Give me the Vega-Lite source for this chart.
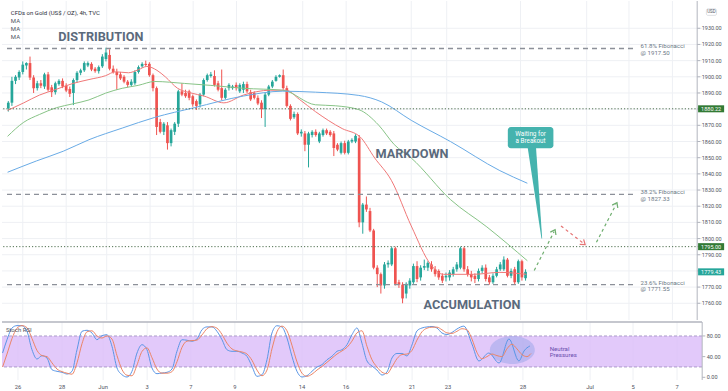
{
"$schema": "https://vega.github.io/schema/vega-lite/v6.json",
"padding": 0,
"spacing": 0,
"background": "white",
"config": {"view": {"stroke": null}, "font": "Roboto"},
"resolve": {"scale": {"color": "independent"}},
"datasets": {
"yt": [{"v":1760,"t":"1760.00"},{"v":1770,"t":"1770.00"},{"v":1780,"t":"1780.00"},{"v":1790,"t":"1790.00"},{"v":1800,"t":"1800.00"},{"v":1810,"t":"1810.00"},{"v":1820,"t":"1820.00"},{"v":1830,"t":"1830.00"},{"v":1840,"t":"1840.00"},{"v":1850,"t":"1850.00"},{"v":1860,"t":"1860.00"},{"v":1870,"t":"1870.00"},{"v":1880,"t":"1880.00"},{"v":1890,"t":"1890.00"},{"v":1900,"t":"1900.00"},{"v":1910,"t":"1910.00"},{"v":1920,"t":"1920.00"},{"v":1930,"t":"1930.00"}],
"rt": [{"v":0,"t":"0.00"},{"v":40,"t":"40.00"},{"v":80,"t":"80.00"}],
"xt": [{"k":0,"t":"26"},{"k":12,"t":"28"},{"k":23.2,"t":"Jun"},{"k":35.2,"t":"3"},{"k":47.1,"t":"7"},{"k":59.1,"t":"9"},{"k":77.4,"t":"14"},{"k":89.4,"t":"16"},{"k":107.4,"t":"21"},{"k":117.2,"t":"23"},{"k":137.6,"t":"28"},{"k":155.9,"t":"Jul"},{"k":167.6,"t":"5"},{"k":179.6,"t":"7"}],
"candles": [
{"k":-4,"o":1880.5,"h":1885,"l":1878.5,"c":1884},
{"k":-3,"o":1884,"h":1900,"l":1882,"c":1897.5},
{"k":-2,"o":1897.5,"h":1901,"l":1895.5,"c":1900},
{"k":-1,"o":1899.5,"h":1904,"l":1898,"c":1903},
{"k":0,"o":1903,"h":1909.5,"l":1901.5,"c":1907.5},
{"k":1,"o":1907,"h":1909,"l":1904.5,"c":1908.5},
{"k":2,"o":1908.5,"h":1912.5,"l":1898,"c":1899.5},
{"k":3,"o":1899.5,"h":1901,"l":1890,"c":1893},
{"k":4,"o":1893,"h":1897.5,"l":1891.5,"c":1896},
{"k":5,"o":1896,"h":1898,"l":1893,"c":1894.5},
{"k":6,"o":1894,"h":1902.5,"l":1892.5,"c":1901.5},
{"k":7,"o":1901.5,"h":1903,"l":1891,"c":1892},
{"k":8,"o":1893.5,"h":1895,"l":1887.5,"c":1890.5},
{"k":9,"o":1890.5,"h":1897,"l":1889,"c":1896},
{"k":10,"o":1895.5,"h":1898.5,"l":1894.5,"c":1897.5},
{"k":11,"o":1897.5,"h":1899,"l":1893,"c":1894},
{"k":12,"o":1894.5,"h":1896,"l":1890.5,"c":1891.5},
{"k":13,"o":1892.5,"h":1894,"l":1887.5,"c":1889.5},
{"k":14,"o":1890,"h":1899,"l":1882.5,"c":1898},
{"k":15,"o":1898,"h":1903.5,"l":1896.5,"c":1902.5},
{"k":16,"o":1902.5,"h":1905,"l":1901,"c":1904},
{"k":17,"o":1904,"h":1909.5,"l":1903,"c":1908.5},
{"k":18,"o":1907,"h":1909.5,"l":1906,"c":1908.5},
{"k":19,"o":1908,"h":1909,"l":1903.5,"c":1904.5},
{"k":20,"o":1905,"h":1906,"l":1902.5,"c":1903.5},
{"k":21,"o":1903.5,"h":1907,"l":1902,"c":1906},
{"k":22,"o":1906.5,"h":1914,"l":1905.5,"c":1912.5},
{"k":23,"o":1911,"h":1918,"l":1909.5,"c":1915},
{"k":24,"o":1913.5,"h":1917,"l":1904,"c":1905},
{"k":25,"o":1905,"h":1907,"l":1902,"c":1903},
{"k":26,"o":1903,"h":1905,"l":1892,"c":1901},
{"k":27,"o":1901.5,"h":1903,"l":1898,"c":1899},
{"k":28,"o":1900,"h":1901,"l":1896,"c":1897},
{"k":29,"o":1897,"h":1898,"l":1893.5,"c":1895},
{"k":30,"o":1895,"h":1898.5,"l":1894,"c":1897},
{"k":31,"o":1896,"h":1904,"l":1895,"c":1903},
{"k":32,"o":1903,"h":1907,"l":1902,"c":1906},
{"k":33,"o":1906.5,"h":1909,"l":1905.5,"c":1908},
{"k":34,"o":1908,"h":1910,"l":1906.5,"c":1907.3},
{"k":35,"o":1908,"h":1909,"l":1900,"c":1901},
{"k":36,"o":1901,"h":1902,"l":1891,"c":1893},
{"k":37,"o":1893,"h":1894,"l":1864,"c":1869},
{"k":38,"o":1872,"h":1874,"l":1865,"c":1866},
{"k":39,"o":1866,"h":1872,"l":1864,"c":1871},
{"k":40,"o":1870,"h":1872,"l":1855,"c":1859},
{"k":41,"o":1859,"h":1868,"l":1857,"c":1867},
{"k":42,"o":1866,"h":1872,"l":1864,"c":1871},
{"k":43,"o":1871,"h":1892,"l":1869,"c":1891},
{"k":44,"o":1891,"h":1896,"l":1888,"c":1889},
{"k":45,"o":1890,"h":1892,"l":1887,"c":1888},
{"k":46,"o":1891,"h":1892,"l":1885.5,"c":1887},
{"k":47,"o":1888,"h":1889,"l":1881.5,"c":1883},
{"k":48,"o":1885,"h":1886,"l":1879.5,"c":1882},
{"k":49,"o":1883,"h":1890,"l":1881,"c":1889},
{"k":50,"o":1889,"h":1899,"l":1888,"c":1898},
{"k":51,"o":1898,"h":1902,"l":1897,"c":1901},
{"k":52,"o":1900.5,"h":1903,"l":1899.5,"c":1901.5},
{"k":53,"o":1900.5,"h":1904,"l":1894,"c":1895},
{"k":54,"o":1896,"h":1897.5,"l":1891,"c":1892},
{"k":55,"o":1893,"h":1904.5,"l":1885.5,"c":1887},
{"k":56,"o":1887,"h":1893,"l":1886,"c":1892},
{"k":57,"o":1893,"h":1896,"l":1891.5,"c":1895},
{"k":58,"o":1893,"h":1895,"l":1892,"c":1894},
{"k":59,"o":1895,"h":1896.5,"l":1891.5,"c":1893},
{"k":60,"o":1891,"h":1896,"l":1890,"c":1895},
{"k":61,"o":1892,"h":1897,"l":1890,"c":1895.5},
{"k":62,"o":1895.5,"h":1897,"l":1890,"c":1891},
{"k":63,"o":1890.5,"h":1892,"l":1885,"c":1886},
{"k":64,"o":1890,"h":1891,"l":1886,"c":1887},
{"k":65,"o":1887,"h":1888.5,"l":1882.5,"c":1883.5},
{"k":66,"o":1884,"h":1885.5,"l":1874.5,"c":1880},
{"k":67,"o":1880,"h":1890,"l":1869,"c":1889},
{"k":68,"o":1889,"h":1895,"l":1888,"c":1894},
{"k":69,"o":1894,"h":1898,"l":1893,"c":1897},
{"k":70,"o":1897.5,"h":1901,"l":1897,"c":1900},
{"k":71,"o":1900,"h":1901.5,"l":1899.5,"c":1901},
{"k":72,"o":1901,"h":1904.5,"l":1892,"c":1893},
{"k":73,"o":1893,"h":1894.5,"l":1881,"c":1882},
{"k":74,"o":1882,"h":1883,"l":1873,"c":1874},
{"k":75,"o":1875,"h":1878.5,"l":1874,"c":1877},
{"k":76,"o":1877,"h":1878,"l":1864,"c":1865},
{"k":77,"o":1865,"h":1867.5,"l":1863,"c":1866},
{"k":78,"o":1865,"h":1866.5,"l":1854,"c":1858},
{"k":79,"o":1858,"h":1866,"l":1844,"c":1865},
{"k":80,"o":1864,"h":1867,"l":1862.5,"c":1866},
{"k":81,"o":1866,"h":1867.5,"l":1863,"c":1864},
{"k":82,"o":1860,"h":1866,"l":1859,"c":1865},
{"k":83,"o":1864,"h":1868,"l":1863,"c":1867},
{"k":84,"o":1867,"h":1868,"l":1864,"c":1865},
{"k":85,"o":1866,"h":1867,"l":1863,"c":1864},
{"k":86,"o":1865,"h":1866.5,"l":1851,"c":1856},
{"k":87,"o":1858,"h":1859,"l":1854,"c":1855},
{"k":88,"o":1853,"h":1860,"l":1852,"c":1859},
{"k":89,"o":1859,"h":1860.5,"l":1852,"c":1853},
{"k":90,"o":1853,"h":1861,"l":1852,"c":1860},
{"k":91,"o":1860,"h":1862,"l":1859,"c":1861},
{"k":92,"o":1860,"h":1864.5,"l":1859,"c":1863.5},
{"k":93,"o":1862,"h":1864,"l":1807,"c":1810},
{"k":94,"o":1810,"h":1822,"l":1803,"c":1821},
{"k":95,"o":1821,"h":1826,"l":1816.5,"c":1818},
{"k":96,"o":1817,"h":1819,"l":1804,"c":1805},
{"k":97,"o":1805,"h":1806,"l":1781,"c":1782},
{"k":98,"o":1782,"h":1783.5,"l":1770,"c":1778},
{"k":99,"o":1778,"h":1779,"l":1766,"c":1771},
{"k":100,"o":1771,"h":1785.5,"l":1769,"c":1784},
{"k":101,"o":1784,"h":1786.5,"l":1782,"c":1785},
{"k":102,"o":1784,"h":1795,"l":1783,"c":1794},
{"k":103,"o":1794,"h":1795,"l":1771,"c":1772},
{"k":104,"o":1773,"h":1774.5,"l":1769.5,"c":1771.5},
{"k":105,"o":1771.5,"h":1773,"l":1760,"c":1763},
{"k":106,"o":1766,"h":1773,"l":1763,"c":1772},
{"k":107,"o":1771,"h":1775.5,"l":1769,"c":1774},
{"k":108,"o":1773,"h":1784.5,"l":1772,"c":1783},
{"k":109,"o":1783,"h":1786,"l":1773,"c":1775},
{"k":110,"o":1776,"h":1783.5,"l":1774,"c":1782},
{"k":111,"o":1782,"h":1787,"l":1780.5,"c":1783},
{"k":112,"o":1782,"h":1786,"l":1780,"c":1785},
{"k":113,"o":1784,"h":1786,"l":1779.5,"c":1781},
{"k":114,"o":1781,"h":1783,"l":1776.5,"c":1778},
{"k":115,"o":1780,"h":1781,"l":1774.5,"c":1776},
{"k":116,"o":1777,"h":1778.5,"l":1772.5,"c":1774},
{"k":117,"o":1776,"h":1779,"l":1773.5,"c":1777},
{"k":118,"o":1776,"h":1780.5,"l":1774,"c":1779},
{"k":119,"o":1778,"h":1782.5,"l":1776.5,"c":1781},
{"k":120,"o":1781,"h":1785.5,"l":1779.5,"c":1784},
{"k":121,"o":1782,"h":1795,"l":1781,"c":1794},
{"k":122,"o":1794,"h":1795,"l":1779.5,"c":1781},
{"k":123,"o":1781,"h":1783,"l":1776.5,"c":1778},
{"k":124,"o":1778,"h":1780,"l":1773.5,"c":1776},
{"k":125,"o":1777,"h":1778.5,"l":1772.5,"c":1775},
{"k":126,"o":1775,"h":1781.5,"l":1773.5,"c":1780},
{"k":127,"o":1780,"h":1783.5,"l":1778.5,"c":1782},
{"k":128,"o":1782,"h":1784,"l":1773.5,"c":1775},
{"k":129,"o":1776,"h":1777.5,"l":1771.5,"c":1773},
{"k":130,"o":1773,"h":1778.5,"l":1772,"c":1777},
{"k":131,"o":1777,"h":1782.5,"l":1776,"c":1781},
{"k":132,"o":1781,"h":1785.5,"l":1780,"c":1784},
{"k":133,"o":1781,"h":1789,"l":1780,"c":1787},
{"k":134,"o":1787,"h":1788,"l":1776,"c":1777},
{"k":135,"o":1777,"h":1781.5,"l":1775.5,"c":1780},
{"k":136,"o":1781,"h":1782.5,"l":1771.5,"c":1773},
{"k":137,"o":1773,"h":1787,"l":1772,"c":1786},
{"k":138,"o":1786,"h":1787,"l":1774,"c":1776},
{"k":139,"o":1775.5,"h":1781,"l":1774,"c":1779.43}
],
"ma": [
{"k":-4.2,"v":1879.2,"s":"MA20"},{"k":0.27,"v":1883.9,"s":"MA20"},{"k":4.6,"v":1888.7,"s":"MA20"},{"k":9.3,"v":1892.3,"s":"MA20"},{"k":13.9,"v":1895.9,"s":"MA20"},{"k":18.3,"v":1898.3,"s":"MA20"},{"k":22.9,"v":1900.7,"s":"MA20"},{"k":25.6,"v":1903.1,"s":"MA20"},{"k":29.2,"v":1902.5,"s":"MA20"},{"k":31.9,"v":1904.3,"s":"MA20"},{"k":34.3,"v":1906.4,"s":"MA20"},{"k":37.1,"v":1904.0,"s":"MA20"},{"k":39.4,"v":1900.0,"s":"MA20"},{"k":42.8,"v":1892.9,"s":"MA20"},{"k":46.5,"v":1890.0,"s":"MA20"},{"k":50.1,"v":1888.1,"s":"MA20"},{"k":55.6,"v":1883.9,"s":"MA20"},{"k":61.0,"v":1888.7,"s":"MA20"},{"k":68.4,"v":1891.7,"s":"MA20"},{"k":72.8,"v":1891.7,"s":"MA20"},{"k":76.5,"v":1886.0,"s":"MA20"},{"k":80.9,"v":1878.5,"s":"MA20"},{"k":88.3,"v":1868.0,"s":"MA20"},{"k":93.2,"v":1863.0,"s":"MA20"},{"k":97.3,"v":1849.8,"s":"MA20"},{"k":101.9,"v":1836.0,"s":"MA20"},{"k":107.4,"v":1807.8,"s":"MA20"},{"k":112.8,"v":1783.9,"s":"MA20"},{"k":116.3,"v":1777.9,"s":"MA20"},{"k":124.5,"v":1777.9,"s":"MA20"},{"k":131.9,"v":1779.1,"s":"MA20"},{"k":139.2,"v":1777.9,"s":"MA20"},
{"k":-4.2,"v":1863.2,"s":"MA50"},{"k":0.27,"v":1871.9,"s":"MA50"},{"k":4.6,"v":1876.7,"s":"MA50"},{"k":9.3,"v":1880.9,"s":"MA50"},{"k":13.9,"v":1883.3,"s":"MA50"},{"k":18.3,"v":1885.7,"s":"MA50"},{"k":22.9,"v":1889.9,"s":"MA50"},{"k":27.5,"v":1892.9,"s":"MA50"},{"k":31.9,"v":1894.7,"s":"MA50"},{"k":36.5,"v":1897.1,"s":"MA50"},{"k":44.7,"v":1895.9,"s":"MA50"},{"k":52.0,"v":1894.7,"s":"MA50"},{"k":61.0,"v":1892.9,"s":"MA50"},{"k":71.9,"v":1891.7,"s":"MA50"},{"k":80.9,"v":1882.7,"s":"MA50"},{"k":86.4,"v":1882.1,"s":"MA50"},{"k":92.9,"v":1879.7,"s":"MA50"},{"k":98.4,"v":1870.1,"s":"MA50"},{"k":102.7,"v":1858.1,"s":"MA50"},{"k":107.4,"v":1849.8,"s":"MA50"},{"k":118.3,"v":1824.0,"s":"MA50"},{"k":128.3,"v":1807.2,"s":"MA50"},{"k":139.5,"v":1786.3,"s":"MA50"},
{"k":-4.2,"v":1841.0,"s":"MA100"},{"k":3.8,"v":1848.0,"s":"MA100"},{"k":11.2,"v":1854.0,"s":"MA100"},{"k":18.3,"v":1861.1,"s":"MA100"},{"k":27.5,"v":1868.3,"s":"MA100"},{"k":36.5,"v":1874.9,"s":"MA100"},{"k":47.4,"v":1880.9,"s":"MA100"},{"k":61.0,"v":1888.1,"s":"MA100"},{"k":71.9,"v":1891.1,"s":"MA100"},{"k":80.9,"v":1890.5,"s":"MA100"},{"k":92.9,"v":1888.5,"s":"MA100"},{"k":99.2,"v":1884.5,"s":"MA100"},{"k":107.4,"v":1873.1,"s":"MA100"},{"k":118.3,"v":1859.9,"s":"MA100"},{"k":131.9,"v":1842.0,"s":"MA100"},{"k":139.5,"v":1834.2,"s":"MA100"}
],
"rsi": [
{"k":-4.2,"v":47,"s":"K"},{"k":-3.0,"v":72.7,"s":"K"},{"k":-1.63,"v":95.4,"s":"K"},{"k":-0.27,"v":100,"s":"K"},{"k":1.09,"v":99.8,"s":"K"},{"k":2.45,"v":89,"s":"K"},{"k":3.81,"v":53.4,"s":"K"},{"k":5.18,"v":35.4,"s":"K"},{"k":6.54,"v":41.8,"s":"K"},{"k":7.9,"v":37.3,"s":"K"},{"k":9.26,"v":14.7,"s":"K"},{"k":10.63,"v":11.6,"s":"K"},{"k":11.99,"v":9.7,"s":"K"},{"k":13.35,"v":6.4,"s":"K"},{"k":14.71,"v":11.6,"s":"K"},{"k":16.08,"v":53.4,"s":"K"},{"k":17.44,"v":89,"s":"K"},{"k":18.8,"v":91,"s":"K"},{"k":20.16,"v":85.7,"s":"K"},{"k":21.53,"v":72.7,"s":"K"},{"k":22.89,"v":80.5,"s":"K"},{"k":24.25,"v":82.4,"s":"K"},{"k":25.61,"v":60,"s":"K"},{"k":26.98,"v":18,"s":"K"},{"k":28.34,"v":5,"s":"K"},{"k":29.7,"v":0.6,"s":"K"},{"k":31.06,"v":11.6,"s":"K"},{"k":32.43,"v":47,"s":"K"},{"k":33.79,"v":63.1,"s":"K"},{"k":35.15,"v":53.4,"s":"K"},{"k":36.51,"v":18,"s":"K"},{"k":37.87,"v":7,"s":"K"},{"k":39.24,"v":8.3,"s":"K"},{"k":40.6,"v":9.7,"s":"K"},{"k":41.96,"v":16.1,"s":"K"},{"k":43.32,"v":50.3,"s":"K"},{"k":44.69,"v":72.7,"s":"K"},{"k":46.05,"v":71.7,"s":"K"},{"k":47.41,"v":69.8,"s":"K"},{"k":48.77,"v":74.2,"s":"K"},{"k":50.14,"v":92.2,"s":"K"},{"k":51.5,"v":97.5,"s":"K"},{"k":52.86,"v":97.5,"s":"K"},{"k":54.22,"v":89,"s":"K"},{"k":55.59,"v":72.7,"s":"K"},{"k":56.95,"v":53.4,"s":"K"},{"k":58.31,"v":50.3,"s":"K"},{"k":59.67,"v":50.3,"s":"K"},{"k":61.04,"v":47,"s":"K"},{"k":62.4,"v":40.6,"s":"K"},{"k":63.76,"v":21.3,"s":"K"},{"k":65.12,"v":1.9,"s":"K"},{"k":66.49,"v":5,"s":"K"},{"k":67.85,"v":34,"s":"K"},{"k":69.21,"v":85.7,"s":"K"},{"k":70.57,"v":99.8,"s":"K"},{"k":71.93,"v":97.3,"s":"K"},{"k":73.3,"v":76,"s":"K"},{"k":74.66,"v":40.6,"s":"K"},{"k":76.02,"v":11.6,"s":"K"},{"k":77.38,"v":0.6,"s":"K"},{"k":78.75,"v":3.1,"s":"K"},{"k":80.11,"v":11.6,"s":"K"},{"k":81.47,"v":19.9,"s":"K"},{"k":82.83,"v":24.4,"s":"K"},{"k":84.2,"v":34,"s":"K"},{"k":85.56,"v":40.6,"s":"K"},{"k":86.92,"v":50.3,"s":"K"},{"k":88.28,"v":53.4,"s":"K"},{"k":89.65,"v":63.1,"s":"K"},{"k":91.01,"v":82.4,"s":"K"},{"k":92.37,"v":95.4,"s":"K"},{"k":93.73,"v":66,"s":"K"},{"k":95.1,"v":31.6,"s":"K"},{"k":96.46,"v":21.9,"s":"K"},{"k":97.82,"v":14.1,"s":"K"},{"k":99.18,"v":4.4,"s":"K"},{"k":100.54,"v":10.3,"s":"K"},{"k":101.91,"v":37.4,"s":"K"},{"k":103.27,"v":46.1,"s":"K"},{"k":104.63,"v":46.1,"s":"K"},{"k":105.99,"v":41.3,"s":"K"},{"k":107.36,"v":62.6,"s":"K"},{"k":108.72,"v":89.7,"s":"K"},{"k":110.08,"v":95.4,"s":"K"},{"k":111.44,"v":97.4,"s":"K"},{"k":112.81,"v":98.3,"s":"K"},{"k":114.17,"v":95.4,"s":"K"},{"k":115.53,"v":85.7,"s":"K"},{"k":116.89,"v":82.8,"s":"K"},{"k":118.26,"v":86.7,"s":"K"},{"k":119.62,"v":93.5,"s":"K"},{"k":121.5,"v":99,"s":"K"},{"k":123.7,"v":64.5,"s":"K"},{"k":125.6,"v":31.6,"s":"K"},{"k":128.3,"v":47,"s":"K"},{"k":131.1,"v":27.7,"s":"K"},{"k":133.8,"v":74.2,"s":"K"},{"k":136.5,"v":31.6,"s":"K"},{"k":137.9,"v":50.9,"s":"K"},{"k":139.5,"v":60.6,"s":"K"},
{"k":-4.2,"v":20,"s":"D"},{"k":-3.0,"v":45,"s":"D"},{"k":-1.63,"v":75,"s":"D"},{"k":-0.27,"v":95,"s":"D"},{"k":1.09,"v":100,"s":"D"},{"k":2.45,"v":96,"s":"D"},{"k":3.81,"v":75,"s":"D"},{"k":5.18,"v":52,"s":"D"},{"k":6.54,"v":42,"s":"D"},{"k":7.9,"v":40,"s":"D"},{"k":9.26,"v":28,"s":"D"},{"k":10.63,"v":16,"s":"D"},{"k":11.99,"v":11,"s":"D"},{"k":13.35,"v":8,"s":"D"},{"k":14.71,"v":6,"s":"D"},{"k":16.08,"v":28,"s":"D"},{"k":17.44,"v":65,"s":"D"},{"k":18.8,"v":88,"s":"D"},{"k":20.16,"v":90,"s":"D"},{"k":21.53,"v":80,"s":"D"},{"k":22.89,"v":76,"s":"D"},{"k":24.25,"v":80,"s":"D"},{"k":25.61,"v":74,"s":"D"},{"k":26.98,"v":42,"s":"D"},{"k":28.34,"v":15,"s":"D"},{"k":29.7,"v":4,"s":"D"},{"k":31.06,"v":3,"s":"D"},{"k":32.43,"v":24,"s":"D"},{"k":33.79,"v":50,"s":"D"},{"k":35.15,"v":57,"s":"D"},{"k":36.51,"v":38,"s":"D"},{"k":37.87,"v":16,"s":"D"},{"k":39.24,"v":8,"s":"D"},{"k":40.6,"v":8,"s":"D"},{"k":41.96,"v":11,"s":"D"},{"k":43.32,"v":30,"s":"D"},{"k":44.69,"v":58,"s":"D"},{"k":46.05,"v":70,"s":"D"},{"k":47.41,"v":71,"s":"D"},{"k":48.77,"v":72,"s":"D"},{"k":50.14,"v":82,"s":"D"},{"k":51.5,"v":94,"s":"D"},{"k":52.86,"v":98,"s":"D"},{"k":54.22,"v":95,"s":"D"},{"k":55.59,"v":83,"s":"D"},{"k":56.95,"v":66,"s":"D"},{"k":58.31,"v":55,"s":"D"},{"k":59.67,"v":51,"s":"D"},{"k":61.04,"v":49,"s":"D"},{"k":62.4,"v":45,"s":"D"},{"k":63.76,"v":33,"s":"D"},{"k":65.12,"v":14,"s":"D"},{"k":66.49,"v":3,"s":"D"},{"k":67.85,"v":14,"s":"D"},{"k":69.21,"v":55,"s":"D"},{"k":70.57,"v":88,"s":"D"},{"k":71.93,"v":99,"s":"D"},{"k":73.3,"v":90,"s":"D"},{"k":74.66,"v":62,"s":"D"},{"k":76.02,"v":30,"s":"D"},{"k":77.38,"v":8,"s":"D"},{"k":78.75,"v":2,"s":"D"},{"k":80.11,"v":6,"s":"D"},{"k":81.47,"v":14,"s":"D"},{"k":82.83,"v":21,"s":"D"},{"k":84.2,"v":29,"s":"D"},{"k":85.56,"v":37,"s":"D"},{"k":86.92,"v":45,"s":"D"},{"k":88.28,"v":51,"s":"D"},{"k":89.65,"v":58,"s":"D"},{"k":91.01,"v":70,"s":"D"},{"k":92.37,"v":86,"s":"D"},{"k":93.73,"v":90,"s":"D"},{"k":95.1,"v":60,"s":"D"},{"k":96.46,"v":34,"s":"D"},{"k":97.82,"v":20,"s":"D"},{"k":99.18,"v":10,"s":"D"},{"k":100.54,"v":7,"s":"D"},{"k":101.91,"v":20,"s":"D"},{"k":103.27,"v":36,"s":"D"},{"k":104.63,"v":44,"s":"D"},{"k":105.99,"v":45,"s":"D"},{"k":107.36,"v":52,"s":"D"},{"k":108.72,"v":72,"s":"D"},{"k":110.08,"v":88,"s":"D"},{"k":111.44,"v":95,"s":"D"},{"k":112.81,"v":97,"s":"D"},{"k":114.17,"v":97,"s":"D"},{"k":115.53,"v":92,"s":"D"},{"k":116.89,"v":86,"s":"D"},{"k":118.26,"v":85,"s":"D"},{"k":119.62,"v":89,"s":"D"},{"k":120.98,"v":94,"s":"D"},{"k":122.34,"v":92,"s":"D"},{"k":123.71,"v":74,"s":"D"},{"k":125.07,"v":48,"s":"D"},{"k":126.43,"v":36,"s":"D"},{"k":127.79,"v":40,"s":"D"},{"k":129.16,"v":45,"s":"D"},{"k":130.52,"v":42,"s":"D"},{"k":131.88,"v":40,"s":"D"},{"k":133.24,"v":55,"s":"D"},{"k":134.6,"v":64,"s":"D"},{"k":135.97,"v":55,"s":"D"},{"k":137.33,"v":44,"s":"D"},{"k":138.69,"v":40,"s":"D"},{"k":139.8,"v":46,"s":"D"}
]
},
"vconcat": [
{
"width": 700,
"height": 319,
"layer": [
{"data": {"name": "yt"},
 "mark": {"type": "rule", "strokeWidth": 1, "color": "#eef0f4"},
 "encoding": {"y": {"field": "v", "type": "quantitative", "scale": {"domain": [1752.75, 1943.77], "nice": false, "zero": false}, "axis": null}}},
{"data": {"name": "xt"},
 "mark": {"type": "rule", "strokeWidth": 1, "color": "#eef0f4"},
 "encoding": {"x": {"field": "k", "type": "quantitative", "scale": {"domain": [-4.36, 186.4], "nice": false, "zero": false}, "axis": null}}},
{"data": {"name": "candles"},
 "mark": {"type": "rule", "strokeWidth": 1},
 "encoding": {
  "x": {"field": "k", "type": "quantitative", "axis": null},
  "y": {"field": "l", "type": "quantitative", "axis": null},
  "y2": {"field": "h"},
  "color": {"condition": {"test": "datum.c >= datum.o", "value": "#26a69a"}, "value": "#ef5350"}
 }},
{"data": {"name": "candles"},
 "mark": {"type": "bar", "size": 2.7},
 "encoding": {
  "x": {"field": "k", "type": "quantitative", "axis": null},
  "y": {"field": "o", "type": "quantitative", "axis": null},
  "y2": {"field": "c"},
  "color": {"condition": {"test": "datum.c >= datum.o", "value": "#26a69a"}, "value": "#ef5350"}
 }},
{"data": {"name": "ma"},
 "mark": {"type": "line", "strokeWidth": 1, "interpolate": "monotone"},
 "encoding": {
  "x": {"field": "k", "type": "quantitative", "axis": null},
  "y": {"field": "v", "type": "quantitative", "axis": null},
  "color": {"field": "s", "type": "nominal", "legend": null, "scale": {"domain": ["MA20","MA50","MA100"], "range": ["#f07878","#88c487","#69abe6"]}}
 }},
{"data": {"values": [{"p": 1917.5},{"p": 1827.33},{"p": 1771.55}]},
 "mark": {"type": "rule", "strokeDash": [5,4], "strokeWidth": 1.3, "color": "#8c9099"},
 "encoding": {"y": {"field": "p", "type": "quantitative", "axis": null}, "x": {"datum": -4.36, "axis": null}, "x2": {"datum": 169}}},
{"data": {"values": [{"p": 1880.22},{"p": 1795.0}]},
 "mark": {"type": "rule", "strokeDash": [1.2,2], "strokeWidth": 1, "color": "#4f6f4f"},
 "encoding": {"y": {"field": "p", "type": "quantitative", "axis": null}}},
{"data": {"values": [
  {"t": "61.8% Fibonacci", "p": 1918.9},{"t": "@ 1917.50", "p": 1914.85},
  {"t": "38.2% Fibonacci", "p": 1828.6},{"t": "@ 1827.33", "p": 1824.6},
  {"t": "23.6% Fibonacci", "p": 1772.7},{"t": "@ 1771.55", "p": 1768.6}]},
 "mark": {"type": "text", "align": "left", "baseline": "middle", "fontSize": 6.1, "color": "#6b7785", "font": "Roboto"},
 "encoding": {"x": {"datum": 170.8, "axis": null}, "y": {"field": "p", "type": "quantitative", "axis": null}, "text": {"field": "t"}}},
{"data": {"values": [
  {"t": "DISTRIBUTION", "k": 21.6, "p": 1924.6},
  {"t": "MARKDOWN", "k": 107.6, "p": 1852.2},
  {"t": "ACCUMULATION", "k": 124.2, "p": 1759.0}]},
 "mark": {"type": "text", "align": "center", "baseline": "middle", "fontSize": 12.7, "fontWeight": "bold", "color": "#5b6a7c", "font": "Roboto"},
 "encoding": {"x": {"field": "k", "type": "quantitative", "axis": null}, "y": {"field": "p", "type": "quantitative", "axis": null}, "text": {"field": "t"}}},
{"data": {"values": [{"t": "CFDs on Gold (US$ / OZ), 4h, TVC", "k": -3.3, "p": 1939.4}]},
 "mark": {"type": "text", "align": "left", "baseline": "middle", "fontSize": 6, "color": "#2a2e39", "font": "Roboto"},
 "encoding": {"x": {"field": "k", "type": "quantitative", "axis": null}, "y": {"field": "p", "type": "quantitative", "axis": null}, "text": {"field": "t"}}},
{"data": {"values": [{"t": "MA", "k": -3.3, "p": 1934.8},{"t": "MA", "k": -3.3, "p": 1929.8},{"t": "MA", "k": -3.3, "p": 1924.8}]},
 "mark": {"type": "text", "align": "left", "baseline": "middle", "fontSize": 6, "color": "#50535e", "font": "Roboto"},
 "encoding": {"x": {"field": "k", "type": "quantitative", "axis": null}, "y": {"field": "p", "type": "quantitative", "axis": null}, "text": {"field": "t"}}},
{"data": {"values": [{"p": 1856.2, "a": 139.6, "b": 141.9},{"p": 1800.1, "a": 143.4, "b": 143.6}]},
 "mark": {"type": "area", "orient": "horizontal", "color": "#45b3ae", "opacity": 1},
 "encoding": {"y": {"field": "p", "type": "quantitative", "axis": null}, "x": {"field": "a", "type": "quantitative", "axis": null}, "x2": {"field": "b"}}},
{"data": {"values": [{"t": "box"}]},
 "mark": {"type": "rect", "color": "#45b3ae", "cornerRadius": 3},
 "encoding": {"x": {"datum": 134.1, "axis": null}, "x2": {"datum": 146.7}, "y": {"datum": 1855.9, "axis": null}, "y2": {"datum": 1868.9}}},
{"data": {"values": [{"t": "Waiting for", "p": 1864.7},{"t": "a Breakout", "p": 1860.5}]},
 "mark": {"type": "text", "align": "center", "baseline": "middle", "fontSize": 6.3, "color": "white", "font": "Roboto"},
 "encoding": {"x": {"datum": 140.4, "axis": null}, "y": {"field": "p", "type": "quantitative", "axis": null}, "text": {"field": "t"}}},
{"data": {"values": [{"g": "g1", "k": 141.4, "p": 1780.3},{"g": "g1", "k": 146.9, "p": 1804.3},{"g": "g2", "k": 158.6, "p": 1797.7},{"g": "g2", "k": 164.0, "p": 1821.0}]},
 "mark": {"type": "line", "strokeDash": [3,3], "strokeWidth": 1.2, "color": "#6fae6f"},
 "encoding": {"x": {"field": "k", "type": "quantitative", "axis": null}, "y": {"field": "p", "type": "quantitative", "axis": null}, "detail": {"field": "g"}}},
{"data": {"values": [{"k": 148.8, "p": 1807.8},{"k": 155.0, "p": 1797.1}]},
 "mark": {"type": "line", "strokeDash": [3,3], "strokeWidth": 1.2, "color": "#e57373"},
 "encoding": {"x": {"field": "k", "type": "quantitative", "axis": null}, "y": {"field": "p", "type": "quantitative", "axis": null}}},
{"data": {"values": [{"k": 146.9, "p": 1804.3},{"k": 164.0, "p": 1821.0}]},
 "mark": {"type": "point", "shape": "M -1 0.7 L 0 -0.7 L 1 0.7", "filled": false, "size": 40, "strokeWidth": 1.2, "color": "#6fae6f", "angle": 27, "opacity": 1},
 "encoding": {"x": {"field": "k", "type": "quantitative", "axis": null}, "y": {"field": "p", "type": "quantitative", "axis": null}}},
{"data": {"values": [{"k": 155.0, "p": 1797.1}]},
 "mark": {"type": "point", "shape": "M -1 0.7 L 0 -0.7 L 1 0.7", "filled": false, "size": 40, "strokeWidth": 1.2, "color": "#e57373", "angle": 128, "opacity": 1},
 "encoding": {"x": {"field": "k", "type": "quantitative", "axis": null}, "y": {"field": "p", "type": "quantitative", "axis": null}}},
{"data": {"values": [{"t": "axis"}]},
 "mark": {"type": "rule", "strokeWidth": 1, "color": "#b2b5be"},
 "encoding": {"x": {"datum": 186.45, "axis": null}}},
{"data": {"name": "yt"},
 "mark": {"type": "rule", "strokeWidth": 1, "color": "#b2b5be"},
 "encoding": {"y": {"field": "v", "type": "quantitative", "axis": null}, "x": {"datum": 186.45, "axis": null}, "x2": {"datum": 187.3}}},
{"data": {"name": "yt"},
 "mark": {"type": "text", "align": "left", "baseline": "middle", "fontSize": 5.5, "color": "#50535e", "font": "Roboto"},
 "encoding": {"y": {"field": "v", "type": "quantitative", "axis": null}, "x": {"datum": 187.7, "axis": null}, "text": {"field": "t"}}},
{"data": {"values": [{"p": 1880.22, "t": "1880.22"},{"p": 1795.0, "t": "1795.00"},{"p": 1779.43, "t": "1779.43"}]},
 "mark": {"type": "bar", "orient": "horizontal", "size": 7},
 "encoding": {"y": {"field": "p", "type": "quantitative", "axis": null}, "x": {"datum": 186.7, "axis": null}, "x2": {"datum": 193.9},
  "color": {"condition": {"test": "datum.t == '1779.43'", "value": "#26a69a"}, "value": "#327a35"}}},
{"data": {"values": [{"p": 1880.22, "t": "1880.22"},{"p": 1795.0, "t": "1795.00"},{"p": 1779.43, "t": "1779.43"}]},
 "mark": {"type": "text", "align": "center", "baseline": "middle", "fontSize": 5.5, "color": "white", "font": "Roboto"},
 "encoding": {"y": {"field": "p", "type": "quantitative", "axis": null}, "x": {"datum": 190.3, "axis": null}, "text": {"field": "t"}}},
{"data": {"values": [{"p": 1940.0, "t": "USD"}]},
 "mark": {"type": "bar", "orient": "horizontal", "size": 6.5, "fill": "white", "stroke": "#c8cbd2", "strokeWidth": 0.6, "cornerRadius": 1.5},
 "encoding": {"y": {"field": "p", "type": "quantitative", "axis": null}, "x": {"datum": 189.0, "axis": null}, "x2": {"datum": 191.8}}},
{"data": {"values": [{"p": 1940.0, "t": "USD"}]},
 "mark": {"type": "text", "align": "center", "baseline": "middle", "fontSize": 4.5, "color": "#50535e", "font": "Roboto"},
 "encoding": {"y": {"field": "p", "type": "quantitative", "axis": null}, "x": {"datum": 190.4, "axis": null}, "text": {"field": "t"}}}
]
},
{
"width": 700,
"height": 58,
"layer": [
{"data": {"name": "xt"},
 "mark": {"type": "rule", "strokeWidth": 1, "color": "#eef0f4"},
 "encoding": {"x": {"field": "k", "type": "quantitative", "scale": {"domain": [-4.36, 186.4], "nice": false, "zero": false}, "axis": null}}},
{"data": {"values": [{"lo": 20, "hi": 80}]},
 "mark": {"type": "rect", "color": "#dbbbf9", "opacity": 0.8},
 "encoding": {
  "x": {"datum": -4.36, "axis": null}, "x2": {"datum": 186.4},
  "y": {"field": "lo", "type": "quantitative", "scale": {"domain": [-5.2, 107], "nice": false, "zero": false}, "axis": null},
  "y2": {"field": "hi"}
 }},
{"data": {"values": [{"v": 80},{"v": 20}]},
 "mark": {"type": "rule", "strokeDash": [3,2], "strokeWidth": 0.8, "color": "#9c8cbc"},
 "encoding": {"y": {"field": "v", "type": "quantitative", "axis": null}}},
{"data": {"values": [{"v": 107}]},
 "mark": {"type": "rule", "strokeWidth": 1.5, "color": "#b2b5be"},
 "encoding": {"y": {"field": "v", "type": "quantitative", "axis": null}}},
{"data": {"values": [{"k": 134.7, "v": 52.8}]},
 "mark": {"type": "point", "shape": "M -1 0 A 1 0.62 0 1 1 1 0 A 1 0.62 0 1 1 -1 0 Z", "filled": true, "size": 2025, "color": "#9fa8ea", "opacity": 0.55},
 "encoding": {"x": {"field": "k", "type": "quantitative", "axis": null}, "y": {"field": "v", "type": "quantitative", "axis": null}}},
{"data": {"name": "rsi"},
 "mark": {"type": "line", "strokeWidth": 1, "interpolate": "monotone"},
 "encoding": {
  "x": {"field": "k", "type": "quantitative", "axis": null},
  "y": {"field": "v", "type": "quantitative", "axis": null},
  "color": {"field": "s", "type": "nominal", "legend": null, "scale": {"domain": ["K","D"], "range": ["#5a96e6","#ec8466"]}}
 }},
{"data": {"values": [{"t": "Stoch RSI", "k": -3.3, "v": 91.5}]},
 "mark": {"type": "text", "align": "left", "baseline": "middle", "fontSize": 6, "color": "#50535e", "font": "Roboto"},
 "encoding": {"x": {"field": "k", "type": "quantitative", "axis": null}, "y": {"field": "v", "type": "quantitative", "axis": null}, "text": {"field": "t"}}},
{"data": {"values": [{"t": "Neutral", "v": 54.7},{"t": "Pressures", "v": 42.2}]},
 "mark": {"type": "text", "align": "left", "baseline": "middle", "fontSize": 6.1, "color": "#6a4fae", "font": "Roboto"},
 "encoding": {"x": {"datum": 144.9, "axis": null}, "y": {"field": "v", "type": "quantitative", "axis": null}, "text": {"field": "t"}}},
{"data": {"values": [{"t": "axis"}]},
 "mark": {"type": "rule", "strokeWidth": 1, "color": "#b2b5be"},
 "encoding": {"x": {"datum": 186.45, "axis": null}}},
{"data": {"name": "rt"},
 "mark": {"type": "rule", "strokeWidth": 1, "color": "#b2b5be"},
 "encoding": {"y": {"field": "v", "type": "quantitative", "axis": null}, "x": {"datum": 186.45, "axis": null}, "x2": {"datum": 187.3}}},
{"data": {"name": "rt"},
 "mark": {"type": "text", "align": "left", "baseline": "middle", "fontSize": 5.5, "color": "#50535e", "font": "Roboto"},
 "encoding": {"y": {"field": "v", "type": "quantitative", "axis": null}, "x": {"datum": 187.7, "axis": null}, "text": {"field": "t"}}},
{"data": {"name": "xt"},
 "mark": {"type": "text", "align": "center", "baseline": "middle", "fontSize": 5.8, "color": "#50535e", "font": "Roboto"},
 "encoding": {"x": {"field": "k", "type": "quantitative", "axis": null}, "y": {"datum": -18.8, "axis": null}, "text": {"field": "t"}}}
]
}
]
}
